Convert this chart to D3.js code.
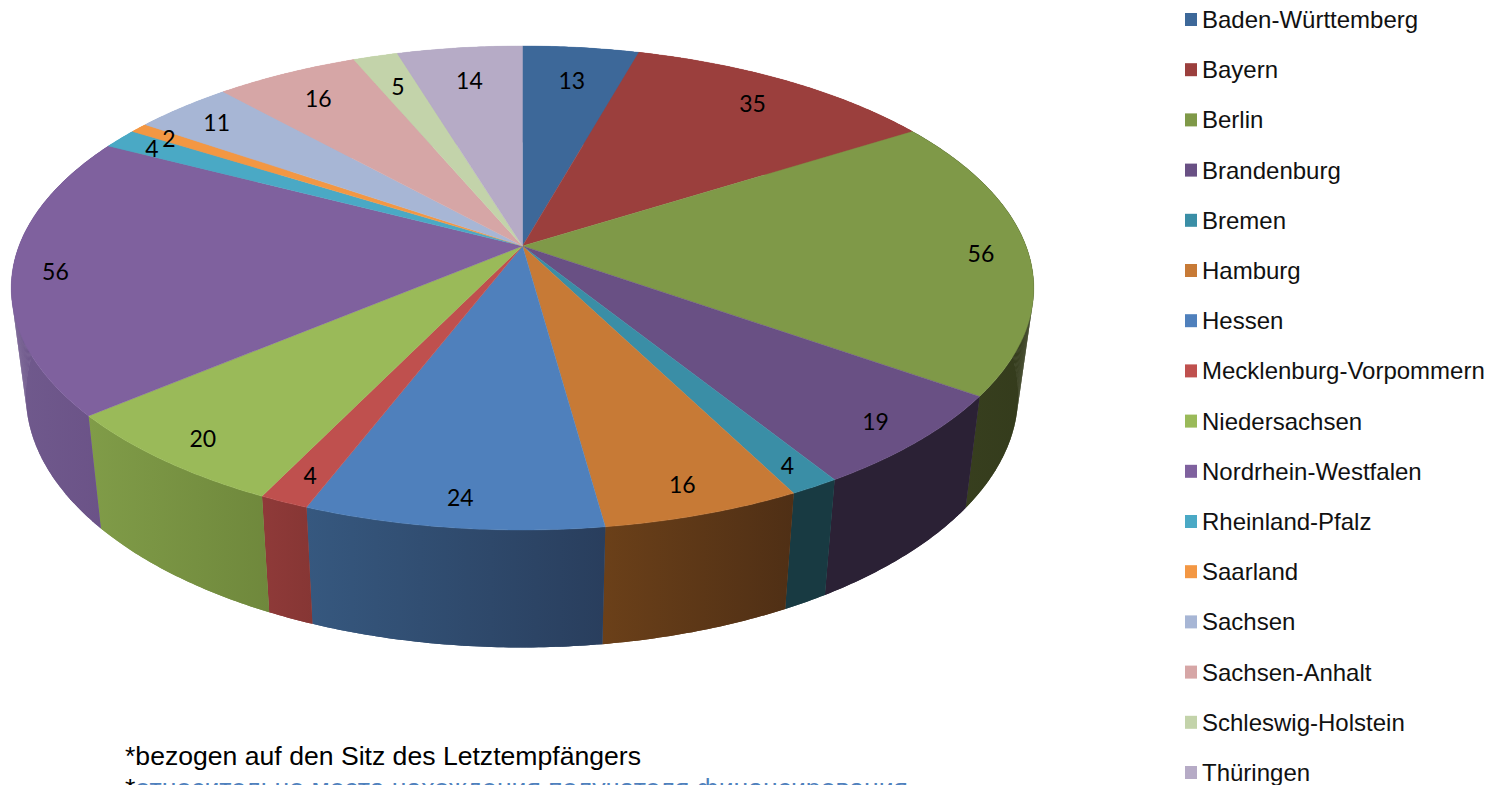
<!DOCTYPE html>
<html>
<head>
<meta charset="utf-8">
<script src="https://d3js.org/d3.v7.min.js"></script>
<style>
  html, body { margin: 0; padding: 0; background: #fff; overflow: hidden; }
  svg { display: block; }
</style>
</head>
<body>
<script>
const states = ['Baden-Württemberg', 'Bayern', 'Berlin', 'Brandenburg', 'Bremen', 'Hamburg', 'Hessen',
  'Mecklenburg-Vorpommern', 'Niedersachsen', 'Nordrhein-Westfalen', 'Rheinland-Pfalz', 'Saarland',
  'Sachsen', 'Sachsen-Anhalt', 'Schleswig-Holstein', 'Thüringen']
const values = [13, 35, 56, 19, 4, 16, 24, 4, 20, 56, 4, 2, 11, 16, 5, 14]

const topColors = ['#3d6899', '#9b3f3d', '#7f9948', '#695084', '#3a8ea6', '#c77a36', '#4f80bc', '#bf504e',
  '#9aba59', '#7f619e', '#4aa9c5', '#f39743', '#a7b6d5', '#d6a6a6', '#c3d3aa', '#b6abc6']
const wallLeft = ['#3d6899', '#9b3f3d', '#3a4220', '#2b2135', '#183a42', '#6b4019', '#36587f', '#8f3a39',
  '#809c48', '#705a8d', '#4aa9c5', '#f39743', '#a7b6d5', '#d6a6a6', '#c3d3aa', '#b6abc6']
const wallRight = ['#3d6899', '#9b3f3d', '#343b1c', '#2b2135', '#183a42', '#4f2f15', '#293e5d', '#863634',
  '#6f883c', '#6a5186', '#4aa9c5', '#f39743', '#a7b6d5', '#d6a6a6', '#c3d3aa', '#b6abc6']
const labelRadius = [0.82, 0.855, 0.907, 0.905, 0.92, 0.9, 0.904, 0.906, 0.905, 0.917, 0.915, 0.915, 0.89, 0.848, 0.827, 0.82]

const footnotes = ['bezogen auf den Sitz des Letztempfängers', 'относительно места нахождения получателя финансирования']

const width = 1497
const height = 785

const svg = d3.select('body')
  .append('svg')
  .attr('width', width)
  .attr('height', height)

// perspective of the tilted disc: a unit circle goes through this to the screen
const tilt = 0.1736
const project = (disc, r, angle) => {
  const u = r * Math.sin(angle)
  const v = -r * Math.cos(angle)
  const d = 1 - tilt * v
  return [disc.cx + disc.a * u / d, disc.cy + disc.b * v / d]
}
const topDisc = { cx: 522.5, cy: 246, a: 503.5, b: 234.7 }
const bottomDisc = { cx: 522, cy: 351, a: 488.6, b: 245 }

const slices = d3.pie().sort(null).startAngle(0).endAngle(2 * Math.PI)(values)

const line = d3.line()
const arcPoints = (disc, d) => {
  const steps = Math.max(2, Math.ceil((d.endAngle - d.startAngle) / 0.01))
  return d3.range(steps + 1).map(i => {
    return project(disc, 1, d.startAngle + (d.endAngle - d.startAngle) * i / steps)
  })
}

const defs = svg.append('defs')

// side walls first, the top face covers the part at the back
const walls = svg.append('g').attr('class', 'walls')
slices.forEach((d, i) => {
  const top = arcPoints(topDisc, d)
  const bottom = arcPoints(bottomDisc, d)
  const xs = top.concat(bottom).map(p => p[0])
  const grad = defs.append('linearGradient')
    .attr('id', 'wall' + i)
    .attr('gradientUnits', 'userSpaceOnUse')
    .attr('x1', d3.min(xs)).attr('x2', d3.max(xs))
    .attr('y1', 0).attr('y2', 0)
  grad.append('stop').attr('offset', 0).attr('stop-color', wallLeft[i])
  grad.append('stop').attr('offset', 1).attr('stop-color', wallRight[i])

  const wall = walls.append('g').attr('fill', `url(#wall${i})`)

  // the whole wall as one shape, so no seams show between the strips
  wall.append('path')
    .attr('d', line(top.concat(bottom.slice().reverse())) + 'Z')

  // strips on top only add the sliver at the widest point of the disc
  wall.selectAll('path.strip')
    .data(d3.range(top.length - 1))
    .enter()
    .append('path')
    .attr('class', 'strip')
    .attr('d', j => line([top[j], top[j + 1], bottom[j + 1], bottom[j]]) + 'Z')
})

svg.append('g')
  .attr('class', 'top')
  .selectAll('path')
  .data(slices)
  .enter()
  .append('path')
  .attr('d', d => line([[topDisc.cx, topDisc.cy]].concat(arcPoints(topDisc, d))) + 'Z')
  .attr('fill', (d, i) => topColors[i])
  .attr('stroke', (d, i) => topColors[i])
  .attr('stroke-width', 0.4)

svg.append('g')
  .attr('class', 'labels')
  .selectAll('text')
  .data(slices)
  .enter()
  .append('text')
  .each(function (d, i) {
    const p = project(topDisc, labelRadius[i], (d.startAngle + d.endAngle) / 2)
    d3.select(this).attr('x', p[0]).attr('y', p[1] + 1)
  })
  .attr('text-anchor', 'middle')
  .attr('dominant-baseline', 'central')
  .attr('font-family', 'Lato, "Open Sans", sans-serif')
  .attr('font-size', 23)
  .attr('fill', '#000')
  .text(d => d.value)

// legend
const legendY = d3.scalePoint().domain(states).range([20, 773])

const legend = svg.append('g')
  .attr('class', 'legend')
  .selectAll('g')
  .data(states)
  .enter()
  .append('g')
  .attr('transform', d => `translate(1185,${legendY(d)})`)

legend.append('rect')
  .attr('x', 0)
  .attr('y', -7)
  .attr('width', 12)
  .attr('height', 13)
  .attr('fill', (d, i) => topColors[i])

legend.append('text')
  .attr('x', 17)
  .attr('y', 8)
  .attr('font-family', '"Liberation Sans", Arial, sans-serif')
  .attr('font-size', 24)
  .attr('fill', '#111')
  .text(d => d)

// notes under the chart, the second one runs off the page
const notes = svg.append('g')
  .attr('class', 'notes')
  .attr('font-family', '"Liberation Sans", Arial, sans-serif')
  .attr('font-size', 26.6)

notes.append('text')
  .attr('x', 125)
  .attr('y', 764.5)
  .attr('fill', '#000')
  .text('*' + footnotes[0])

const second = notes.append('text')
  .attr('x', 125)
  .attr('y', 797)
second.append('tspan').attr('fill', '#000').text('*')
second.append('tspan').attr('fill', '#4f81bd').text(footnotes[1])
</script>
</body>
</html>
